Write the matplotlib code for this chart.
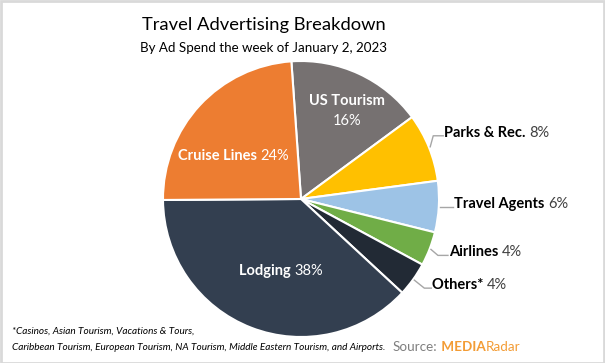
import numpy as np
import matplotlib.pyplot as plt
from matplotlib.patches import Rectangle

plt.rcParams['font.family'] = ['Lato', 'DejaVu Sans']

# data
categories = ['US Tourism', 'Parks & Rec.', 'Travel Agents', 'Airlines', 'Others*', 'Lodging', 'Cruise Lines']
shares = [16, 8, 6, 4, 4, 38, 24]
colors = ['#767171', '#FFC000', '#9DC3E6', '#70AD47', '#222A35', '#333F50', '#ED7D31']

W, H = 605, 363
CX, CY, R = 301, H - 199, 138
START = 94

fig = plt.figure(figsize=(W / 100, H / 100), dpi=100)
ax = fig.add_axes([0, 0, 1, 1])
wedges, _ = ax.pie(shares, colors=colors, startangle=START, counterclock=False,
                   center=(CX, CY), radius=R, frame=True,
                   wedgeprops=dict(edgecolor='white', linewidth=1.5))
ax.set_xlim(0, W)
ax.set_ylim(0, H)
ax.set_aspect('equal')
ax.axis('off')


def mid_angle(w):
    return np.deg2rad((w.theta1 + w.theta2) / 2)


# US Tourism label, two lines, centred
i = categories.index('US Tourism')
ax.text(CX + 46, CY + 98, categories[i], color='white', fontsize=10.5,
        fontweight='bold', ha='center', va='center')
ax.text(CX + 46, CY + 78, f'{shares[i]}%', color='white', fontsize=10.5,
        ha='center', va='center')

# one-line labels inside the pie (left start offset from centre, pixels)
inside = {
    'Cruise Lines': (-123, 43),
    'Lodging': (-62, -72),
}
for name, (dx, dy) in inside.items():
    i = categories.index(name)
    t1 = ax.text(CX + dx, CY + dy, name + ' ', color='white', fontsize=10.5,
                 fontweight='bold', ha='left', va='center')
    ax.annotate(f'{shares[i]}%', xycoords=t1, xy=(1, 0), va='bottom', ha='left',
                color='white', fontsize=10.5)

# outside labels with leader lines: (elbow offset from edge, end x offset)
outside = {
    'Parks & Rec.': ((3, 11), 10),
    'Travel Agents': ((5, 0), 8),
    'Airlines': ((7, -6), 10),
    'Others*': ((10, -8), 7),
}
for name, ((ex, ey), lx) in outside.items():
    i = categories.index(name)
    a = mid_angle(wedges[i])
    x0 = CX + R * 1.01 * np.cos(a)
    y0 = CY + R * 1.01 * np.sin(a)
    x1, y1 = x0 + ex, y0 + ey
    x2 = x1 + lx
    ax.plot([x0, x1, x2], [y0, y1, y1], color='#A6A6A6', lw=1)
    t1 = ax.text(x2 + 1, y1 + 3, name + ' ', color='black', fontsize=10.5,
                 fontweight='bold', ha='left', va='center')
    ax.annotate(f'{shares[i]}%', xycoords=t1, xy=(1, 0), va='bottom', ha='left',
                color='#404040', fontsize=10.5)

# titles
fig.text(264 / W, 1 - 25 / H, 'Travel Advertising Breakdown', ha='center', va='center',
         fontsize=13.2, color='black')
fig.text(264 / W, 1 - 48 / H, 'By Ad Spend the week of January 2, 2023', ha='center',
         va='center', fontsize=9.6, color='black')

# footnote
fig.text(12 / W, 1 - 331 / H, '*Casinos, Asian Tourism, Vacations & Tours,',
         fontsize=7.2, style='italic', color='black', va='center')
fig.text(12 / W, 1 - 347 / H,
         'Caribbean Tourism, European Tourism, NA Tourism, Middle Eastern Tourism, and Airports.',
         fontsize=7.2, style='italic', color='black', va='center')

# source
s1 = fig.text(393 / W, 1 - 347 / H, 'Source:', fontsize=9.7, color='#7F7F7F', va='center')
s2 = ax.annotate(' MEDIA', xycoords=s1, xy=(1, 0), va='bottom', ha='left',
                 fontsize=9.7, color='#F39C35', fontweight='bold')
ax.annotate('Radar', xycoords=s2, xy=(1, 0), va='bottom', ha='left',
            fontsize=9.7, color='#F39C35')

# border
fig.patches.append(Rectangle((0.5 / W, 0.5 / H), 1 - 1.5 / W, 1 - 1.5 / H, transform=fig.transFigure,
                             fill=False, edgecolor='#D9D9D9', lw=2))

fig.savefig('out.png', dpi=100)
